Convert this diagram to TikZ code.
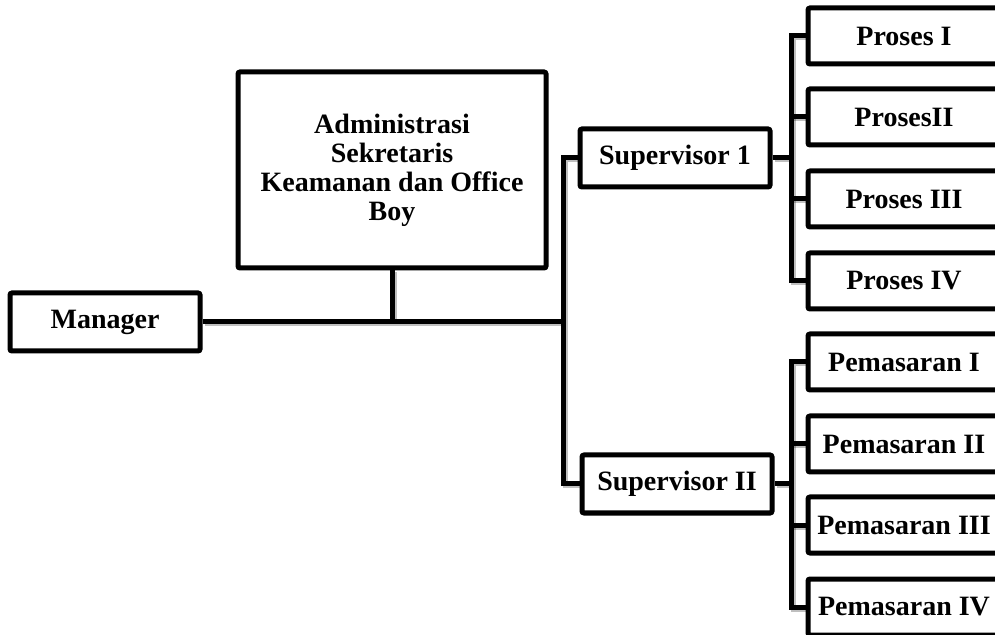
\documentclass[tikz,border=0pt]{standalone}
\usepackage{fontspec}
\setmainfont{Liberation Serif}
\usetikzlibrary{positioning,shadows}

\begin{document}
\begin{tikzpicture}[x=0.5pt,y=-0.5pt,line width=2.5pt,font=\fontsize{14}{14.5}\selectfont\bfseries]
\useasboundingbox (0,0) rectangle (995,635);
\clip (0,0) rectangle (995,635);

\tikzset{mybox/.style={draw,fill=white,rounded corners=1pt,align=center,inner sep=0pt,
    minimum width=95pt,minimum height=29pt,
    drop shadow={shadow xshift=1pt,shadow yshift=-1pt,opacity=0.3}}}
\tikzset{subbox/.style={mybox,minimum width=96pt,minimum height=28pt}}
\tikzset{myline/.style={preaction={draw=black,opacity=0.25,transform canvas={shift={(1pt,-1pt)}}}}}

  \node[mybox]          (mgr)  at (105,322)   {Manager};
  \node[mybox,minimum width=154pt,minimum height=98pt]
                        (adm)  at (392,170)   {Administrasi\\Sekretaris\\Keamanan dan Office\\Boy};
  \node[mybox]          (sup1) at (675,158)   {Supervisor 1};
  \node[mybox]          (sup2) at (677,484)   {Supervisor II};

  \node[subbox]         (p1)   at (904,36)    {Proses I};
  \node[subbox]         (p2)   at (904,117)   {ProsesII};
  \node[subbox]         (p3)   at (904,199)   {Proses III};
  \node[subbox]         (p4)   at (904,281)   {Proses IV};

  \node[subbox]         (m1)   at (904,362)   {Pemasaran I};
  \node[subbox]         (m2)   at (904,444)   {Pemasaran II};
  \node[subbox]         (m3)   at (904,525)   {Pemasaran III};
  \node[subbox]         (m4)   at (904,607)   {Pemasaran IV};

\coordinate (hub) at (563,322);
\coordinate (ca)  at (791,158);
\coordinate (cb)  at (791,484);

\path[draw,myline] (mgr.east) -- (hub);
\path[draw,myline] (adm.south) -- (adm.south |- hub);
\path[draw,myline] (sup1.west) -| (hub) |- (sup2.west);

\path[draw,myline] (sup1.east) -- (ca);
\path[draw,myline] (p1.west) -| (ca) |- (p4.west);
\path[draw,myline] (sup2.east) -- (cb);
\path[draw,myline] (m1.west) -| (cb) |- (m4.west);
\foreach \n in {p2,p3,m2,m3}
  \path[draw,myline] (\n.west) -- (\n.west -| ca);
\end{tikzpicture}
\end{document}
